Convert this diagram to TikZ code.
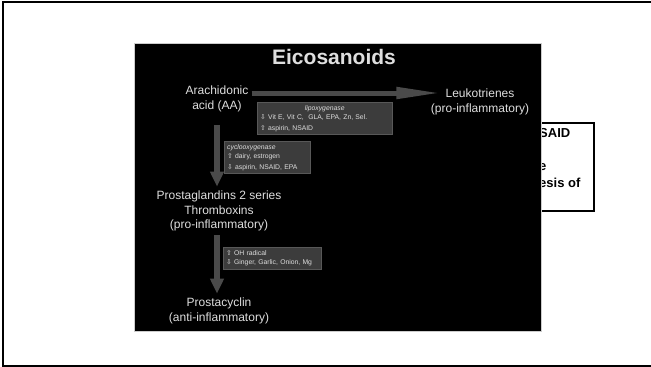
\documentclass[tikz,border=0pt]{standalone}
\usepackage{fontspec}
\setmainfont{Liberation Sans}
\newfontfamily\arrowfont{DejaVu Sans}
\usetikzlibrary{arrows.meta,positioning}
\definecolor{slidetext}{RGB}{222,222,222}
\definecolor{arrowgray}{RGB}{74,74,74}
\definecolor{boxfill}{RGB}{60,60,60}
\definecolor{boxedge}{RGB}{88,88,88}
\newcommand{\incr}{{\arrowfont\char"21E7}}
\newcommand{\decr}{{\arrowfont\char"21E9}}
\begin{document}
\begin{tikzpicture}[x=1pt, y=-1pt,
      lbl/.style={text=slidetext, align=center, inner sep=3pt,
                  font=\fontsize{12}{15}\selectfont},
      harr/.style={-{Triangle[length=45pt,width=11pt]}, line width=5pt, arrowgray},
      varr/.style={-{Triangle[length=15pt,width=13pt]}, line width=6.5pt, arrowgray},
      enzbox/.style={draw=boxedge, fill=boxfill, text=slidetext, align=left,
                     anchor=north west, inner sep=3pt,
                     font=\fontsize{6.8}{9}\selectfont}
    ]
    \useasboundingbox (0,0) rectangle (651,367);
    % page frame (runs off the right edge)
    \draw[line width=1.4pt] (3,2) rectangle (670,366);
    % note box partly hidden behind the slide
    \node[draw, line width=1.8pt, minimum width=55pt, minimum height=88pt,
          anchor=north west, inner sep=0pt] (note) at (538,122) {};
    \node[anchor=north west, inner sep=0pt, align=left,
          font=\fontsize{13}{16.4}\selectfont\bfseries] (notetxt) at (539,128.6)
      {SAID\\\mbox{}\\e\\esis of};
    % slide
    \node[fill=black, draw=black!20, line width=0.6pt, minimum width=407pt,
          minimum height=288pt, anchor=north west, inner sep=0pt] (slide) at (134,43) {};
    \node[text=slidetext, font=\fontsize{21}{25}\selectfont\bfseries] (title) at (334,57) {Eicosanoids};
    % compounds
    \node[lbl] (aa) at (217,98.5) {Arachidonic\\acid (AA)};
    \node[lbl] (leuko) at (480,101.5) {Leukotrienes\\(pro-inflammatory)};
    \node[lbl, font=\fontsize{12}{14.5}\selectfont] (pg) at (219,211)
      {Prostaglandins 2 series\\Thromboxins\\(pro-inflammatory)};
    \node[lbl] (pc) at (219,311) {Prostacyclin\\(anti-inflammatory)};
    % pathways
    \draw[harr] ([yshift=5.5pt]aa.east) -- ([yshift=5.5pt,xshift=13.5pt]aa.east -| leuko.west);
    \draw[varr, shorten <=10pt, shorten >=1pt] (aa.south) -- (aa.south |- pg.north);
    \draw[varr, shorten <=1pt, shorten >=1pt] (aa.south |- pg.south) -- (aa.south |- pc.north);
    % enzymes and modifiers
    \node[enzbox, text width=129pt] (lox) at (257,102)
      {\makebox[\linewidth]{\itshape lipoxygenase}\\
       \decr\ Vit E, Vit C,\ \ GLA, EPA, Zn, Sel.\\[2pt]
       \incr\ aspirin, NSAID};
    \node[enzbox, text width=80pt] (cox) at (224,141)
      {{\itshape cyclooxygenase}\\
       \incr\ dairy, estrogen\\[2pt]
       \decr\ aspirin, NSAID, EPA};
    \node[enzbox, text width=92pt] (rad) at (223,247)
      {\incr\ OH radical\\
       \decr\ Ginger, Garlic, Onion, Mg};
  \end{tikzpicture}
\end{document}
